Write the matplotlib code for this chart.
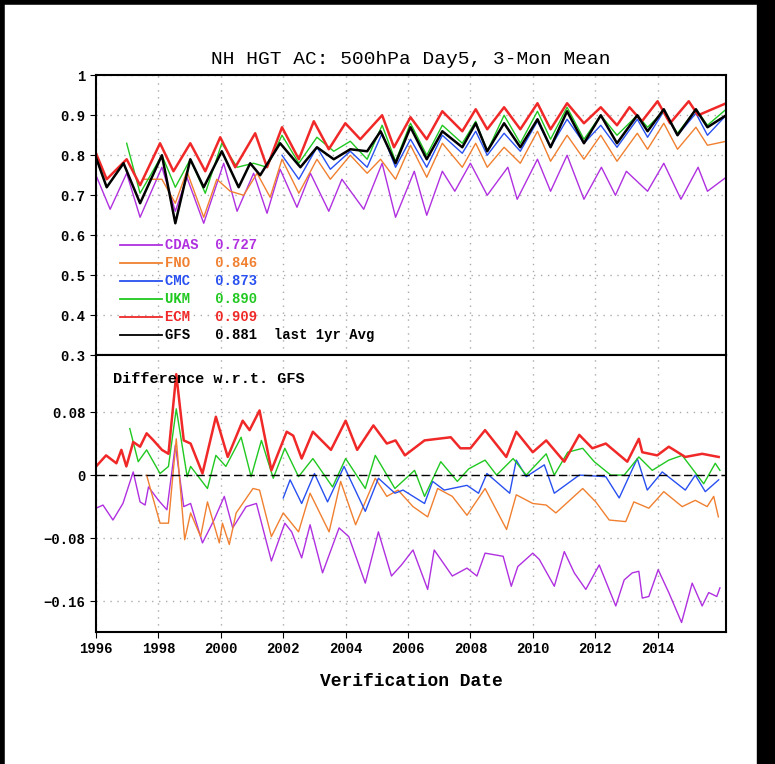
import matplotlib
matplotlib.use("Agg")
import matplotlib.pyplot as plt
from matplotlib.patches import Rectangle
from matplotlib.lines import Line2D

# ---- top panel: anomaly correlation (dates, values) ----
gfs_t = [1995.97, 1996.34, 1996.88, 1997.41, 1998.11, 1998.54, 1999.02, 1999.45, 2000.03, 2000.57,
         2000.94, 2001.26, 2001.9, 2002.55, 2003.08, 2003.62, 2004.15, 2004.69, 2005.12, 2005.6,
         2006.08, 2006.6, 2007.1, 2007.74, 2008.17, 2008.54, 2009.08, 2009.6, 2010.15, 2010.57,
         2011.1, 2011.64, 2012.18, 2012.7, 2013.35, 2013.68, 2014.2, 2014.64, 2015.23, 2015.6, 2016.2]
gfs_v = [0.80, 0.72, 0.78, 0.68, 0.80, 0.63, 0.79, 0.72, 0.81, 0.72,
         0.78, 0.75, 0.83, 0.77, 0.82, 0.79, 0.815, 0.81, 0.86, 0.78,
         0.87, 0.79, 0.86, 0.82, 0.88, 0.81, 0.88, 0.82, 0.89, 0.82,
         0.91, 0.83, 0.90, 0.83, 0.90, 0.86, 0.915, 0.85, 0.915, 0.87, 0.90]

ecm_t = [1995.97, 1996.34, 1996.98, 1997.41, 1998.05, 1998.48, 1999.02, 1999.5, 1999.98, 2000.46,
         2001.1, 2001.48, 2001.96, 2002.5, 2002.98, 2003.46, 2003.99, 2004.47, 2005.17, 2005.55,
         2006.08, 2006.6, 2007.1, 2007.74, 2008.17, 2008.54, 2009.08, 2009.6, 2010.15, 2010.57,
         2011.1, 2011.64, 2012.18, 2012.7, 2013.1, 2013.5, 2014.0, 2014.4, 2015.0, 2015.3, 2016.2]
ecm_v = [0.81, 0.74, 0.79, 0.725, 0.83, 0.76, 0.83, 0.76, 0.845, 0.77,
         0.855, 0.77, 0.87, 0.79, 0.885, 0.815, 0.88, 0.84, 0.90, 0.82,
         0.895, 0.84, 0.91, 0.86, 0.915, 0.865, 0.92, 0.865, 0.93, 0.865,
         0.93, 0.88, 0.92, 0.875, 0.92, 0.885, 0.935, 0.88, 0.935, 0.90, 0.93]

ukm_t = [1996.98, 1997.41, 1998.11, 1998.54, 1999.02, 1999.5, 2000.03, 2000.52, 2001.05, 2001.48,
         2001.96, 2002.5, 2003.08, 2003.62, 2004.15, 2004.69, 2005.17, 2005.6,
         2006.08, 2006.6, 2007.1, 2007.74, 2008.17, 2008.54, 2009.08, 2009.6, 2010.15, 2010.57,
         2011.1, 2011.64, 2012.18, 2012.7, 2013.35, 2013.68, 2014.2, 2014.64, 2015.23, 2015.6, 2016.2]
ukm_v = [0.83, 0.705, 0.80, 0.72, 0.79, 0.705, 0.83, 0.77, 0.78, 0.77,
         0.85, 0.78, 0.845, 0.81, 0.835, 0.79, 0.875, 0.785,
         0.88, 0.80, 0.875, 0.83, 0.885, 0.81, 0.90, 0.83, 0.91, 0.84,
         0.92, 0.84, 0.90, 0.85, 0.90, 0.87, 0.91, 0.855, 0.915, 0.875, 0.915]

cmc_t = [2001.96, 2002.5, 2003.08, 2003.51, 2004.15, 2004.69, 2005.17, 2005.6,
         2006.08, 2006.6, 2007.1, 2007.74, 2008.17, 2008.54, 2009.08, 2009.6, 2010.15, 2010.57,
         2011.1, 2011.64, 2012.18, 2012.7, 2013.35, 2013.68, 2014.2, 2014.64, 2015.23, 2015.6, 2016.2]
cmc_v = [0.80, 0.74, 0.82, 0.765, 0.81, 0.77, 0.855, 0.77,
         0.84, 0.77, 0.85, 0.805, 0.86, 0.80, 0.855, 0.81, 0.885, 0.82,
         0.89, 0.83, 0.875, 0.82, 0.89, 0.845, 0.91, 0.85, 0.905, 0.85, 0.90]

fno_t = [1997.52, 1998.11, 1998.54, 1998.91, 1999.45, 1999.87, 2000.3, 2000.73, 2001.16, 2001.58,
         2001.96, 2002.5, 2003.08, 2003.51, 2004.15, 2004.69, 2005.12, 2005.6,
         2006.08, 2006.6, 2007.1, 2007.74, 2008.17, 2008.54, 2009.08, 2009.6, 2010.15, 2010.57,
         2011.1, 2011.64, 2012.18, 2012.7, 2013.35, 2013.68, 2014.2, 2014.64, 2015.23, 2015.6, 2016.2]
fno_v = [0.74, 0.74, 0.68, 0.76, 0.645, 0.74, 0.71, 0.70, 0.755, 0.695,
         0.79, 0.705, 0.79, 0.74, 0.80, 0.755, 0.79, 0.74,
         0.825, 0.745, 0.83, 0.77, 0.83, 0.77, 0.82, 0.78, 0.86, 0.785,
         0.85, 0.79, 0.85, 0.785, 0.855, 0.815, 0.88, 0.815, 0.87, 0.825, 0.835]

cdas_t = [1995.97, 1996.45, 1996.98, 1997.41, 1998.11, 1998.54, 1998.91, 1999.45, 2000.09, 2000.52,
          2001.05, 2001.48, 2001.9, 2002.44, 2002.87, 2003.46, 2003.88, 2004.58, 2005.17, 2005.6,
          2006.2, 2006.6, 2007.1, 2007.5, 2008.0, 2008.54, 2009.2, 2009.5, 2010.15, 2010.57,
          2011.1, 2011.64, 2012.2, 2012.65, 2013.0, 2013.68, 2014.2, 2014.75, 2015.3, 2015.6, 2016.2]
cdas_v = [0.755, 0.665, 0.755, 0.645, 0.77, 0.66, 0.745, 0.63, 0.78, 0.66,
          0.755, 0.655, 0.765, 0.67, 0.755, 0.66, 0.74, 0.665, 0.78, 0.645,
          0.76, 0.65, 0.76, 0.71, 0.78, 0.70, 0.77, 0.69, 0.79, 0.71,
          0.80, 0.69, 0.77, 0.70, 0.76, 0.71, 0.78, 0.69, 0.77, 0.71, 0.745]

# ---- bottom panel: difference w.r.t. GFS ----
ecm_dt = [1996.0, 1996.32, 1996.65, 1996.81, 1996.97, 1997.19, 1997.41, 1997.62, 1997.84, 1998.11,
          1998.32, 1998.57, 1998.81, 1999.03, 1999.41, 1999.84, 2000.22, 2000.7, 2000.92, 2001.24,
          2001.62, 2002.11, 2002.32, 2002.59, 2002.95, 2003.53, 2004.0, 2004.37, 2004.89, 2005.32,
          2005.6, 2005.9, 2006.53, 2007.37, 2007.68, 2008.0, 2008.47, 2009.15, 2009.47, 2010.0,
          2010.43, 2011.01, 2011.49, 2011.91, 2012.34, 2013.03, 2013.4, 2013.51, 2013.99, 2014.36,
          2014.89, 2015.43, 2015.96]
ecm_dv = [0.011, 0.025, 0.015, 0.032, 0.011, 0.042, 0.036, 0.053, 0.044, 0.032,
          0.027, 0.128, 0.044, 0.040, 0.002, 0.074, 0.023, 0.069, 0.057, 0.082,
          0.006, 0.055, 0.050, 0.021, 0.055, 0.032, 0.069, 0.032, 0.063, 0.040,
          0.044, 0.025, 0.044, 0.048, 0.034, 0.034, 0.057, 0.023, 0.055, 0.029,
          0.044, 0.017, 0.051, 0.034, 0.040, 0.017, 0.046, 0.029, 0.025, 0.036,
          0.023, 0.027, 0.023]

ukm_dt = [1997.08, 1997.35, 1997.62, 1998.05, 1998.32, 1998.57, 1998.92, 1999.03, 1999.57, 1999.84,
          2000.16, 2000.65, 2000.97, 2001.3, 2001.68, 2002.05, 2002.49, 2002.95, 2003.58, 2004.0,
          2004.63, 2004.95, 2005.58, 2006.21, 2006.53, 2007.05, 2007.58, 2007.95, 2008.47, 2008.84,
          2009.37, 2009.79, 2010.43, 2010.69, 2011.12, 2011.6, 2011.97, 2012.5, 2012.93, 2013.4,
          2013.83, 2014.36, 2014.79, 2015.48, 2015.85, 2016.0]
ukm_dv = [0.059, 0.017, 0.032, 0.002, 0.011, 0.084, -0.002, 0.011, -0.017, 0.025,
          0.011, 0.048, -0.002, 0.044, -0.004, 0.034, -0.002, 0.021, -0.015, 0.021,
          -0.017, 0.025, -0.017, 0.006, -0.027, 0.017, -0.008, 0.008, 0.019, 0.0,
          0.021, 0.0, 0.027, 0.0, 0.029, 0.034, 0.017, 0.0, 0.0, 0.023,
          0.006, 0.019, 0.025, -0.011, 0.015, 0.006]

cmc_dt = [2002.0, 2002.22, 2002.59, 2003.0, 2003.42, 2003.95, 2004.63, 2005.05, 2005.58, 2005.84,
          2006.53, 2006.79, 2007.16, 2007.89, 2008.26, 2008.53, 2009.26, 2009.47, 2009.79, 2010.37,
          2010.69, 2011.49, 2012.34, 2012.77, 2013.35, 2013.67, 2014.15, 2014.89, 2015.21, 2015.53,
          2015.96]
cmc_dv = [-0.029, -0.006, -0.036, 0.002, -0.034, 0.011, -0.046, -0.004, -0.023, -0.019,
          -0.036, -0.008, -0.019, -0.013, -0.023, 0.002, -0.023, 0.019, -0.002, 0.013,
          -0.023, 0.0, -0.002, -0.029, 0.021, -0.019, 0.004, -0.019, 0.0, -0.021,
          -0.006]

fno_dt = [1997.62, 1997.78, 1998.05, 1998.32, 1998.57, 1998.84, 1999.03, 1999.35, 1999.57, 1999.95,
          2000.05, 2000.27, 2000.49, 2001.03, 2001.24, 2001.62, 2002.0, 2002.49, 2002.86, 2003.47,
          2003.84, 2004.32, 2004.95, 2005.32, 2005.68, 2006.16, 2006.63, 2006.95, 2007.42, 2007.89,
          2008.47, 2009.16, 2009.47, 2010.0, 2010.43, 2010.74, 2011.6, 2012.02, 2012.45, 2012.98,
          2013.24, 2013.72, 2014.2, 2014.79, 2015.21, 2015.59, 2015.8, 2015.95]
fno_dv = [0.0, -0.023, -0.061, -0.061, 0.046, -0.082, -0.048, -0.078, -0.034, -0.086,
          -0.061, -0.088, -0.048, -0.017, -0.019, -0.078, -0.048, -0.072, -0.023, -0.072,
          -0.008, -0.063, -0.004, -0.027, -0.019, -0.040, -0.053, -0.017, -0.027, -0.051,
          -0.017, -0.069, -0.025, -0.036, -0.038, -0.048, -0.017, -0.034, -0.057, -0.059,
          -0.034, -0.042, -0.021, -0.040, -0.032, -0.040, -0.027, -0.053]

cdas_dt = [1996.0, 1996.22, 1996.54, 1996.86, 1997.19, 1997.41, 1997.57, 1997.68, 1998.0, 1998.27,
           1998.54, 1998.81, 1999.03, 1999.41, 1999.78, 2000.11, 2000.38, 2000.81, 2001.14, 2001.62,
           2002.05, 2002.27, 2002.59, 2002.86, 2003.26, 2003.79, 2004.1, 2004.63, 2005.05, 2005.47,
           2005.79, 2006.16, 2006.63, 2006.84, 2007.42, 2007.89, 2008.21, 2008.47, 2009.05, 2009.31,
           2009.52, 2010.0, 2010.21, 2010.69, 2011.01, 2011.33, 2011.7, 2012.13, 2012.66, 2012.93,
           2013.19, 2013.4, 2013.51, 2013.72, 2014.02, 2014.36, 2014.77, 2015.11, 2015.43, 2015.64,
           2015.9, 2016.0]
cdas_dv = [-0.042, -0.038, -0.057, -0.036, 0.004, -0.034, -0.038, -0.015, -0.032, -0.044,
           0.038, -0.040, -0.036, -0.086, -0.057, -0.027, -0.067, -0.040, -0.036, -0.109,
           -0.061, -0.072, -0.105, -0.063, -0.124, -0.067, -0.078, -0.137, -0.072, -0.128,
           -0.114, -0.095, -0.145, -0.095, -0.128, -0.118, -0.128, -0.099, -0.103, -0.141,
           -0.116, -0.099, -0.107, -0.141, -0.097, -0.124, -0.145, -0.114, -0.166, -0.133,
           -0.124, -0.122, -0.156, -0.154, -0.120, -0.149, -0.187, -0.137, -0.166, -0.149,
           -0.154, -0.143]

NAMES = ["CDAS", "FNO", "CMC", "UKM", "ECM", "GFS"]
SCORES = ["0.727", "0.846", "0.873", "0.890", "0.909", "0.881"]
COLORS = {"CDAS": "#b030e0", "FNO": "#f08030", "CMC": "#2850f0",
          "UKM": "#20c820", "ECM": "#f02828", "GFS": "black"}

FONT = "Liberation Mono"

fig = plt.figure(figsize=(7.75, 7.64), dpi=100)
ax1 = fig.add_axes([0.124, 0.535, 0.813, 0.3665])
ax2 = fig.add_axes([0.124, 0.1728, 0.813, 0.3622])

top = {"CDAS": (cdas_t, cdas_v), "FNO": (fno_t, fno_v), "CMC": (cmc_t, cmc_v),
       "UKM": (ukm_t, ukm_v), "ECM": (ecm_t, ecm_v), "GFS": (gfs_t, gfs_v)}
for name in NAMES:
    t, v = top[name]
    ax1.plot(t, v, color=COLORS[name], lw=1.8 if name in ("GFS", "ECM") else 1.0,
             solid_joinstyle="round")

bot = {"CDAS": (cdas_dt, cdas_dv), "FNO": (fno_dt, fno_dv), "CMC": (cmc_dt, cmc_dv),
       "UKM": (ukm_dt, ukm_dv), "ECM": (ecm_dt, ecm_dv)}
for name in NAMES[:-1]:
    t, v = bot[name]
    ax2.plot(t, v, color=COLORS[name], lw=1.8 if name == "ECM" else 1.0,
             solid_joinstyle="round")
ax2.axhline(0, color="black", lw=1, ls=(0, (6, 3)))

years = list(range(1996, 2016, 2))
for ax in (ax1, ax2):
    ax.set_xlim(1996, 2016.2)
    ax.set_xticks(years)
    ax.grid(True, color="#aaaaaa", ls=(0, (1, 4)), lw=1)
    ax.tick_params(direction="out", length=4, labelsize=10)
    for s in ax.spines.values():
        s.set_linewidth(1.5)

ax1.set_ylim(0.3, 1.0)
ax1.set_yticks([0.3, 0.4, 0.5, 0.6, 0.7, 0.8, 0.9, 1.0])
ax1.set_yticklabels(["0.3", "0.4", "0.5", "0.6", "0.7", "0.8", "0.9", "1"],
                    fontfamily=FONT, fontweight="bold")
ax1.set_xticklabels([])
ax1.tick_params(axis="x", length=0)

ax2.set_ylim(-0.199, 0.152)
ax2.set_yticks([-0.16, -0.08, 0, 0.08])
ax2.set_yticklabels(["\u22120.16", "\u22120.08", "0", "0.08"], fontfamily=FONT, fontweight="bold")
ax2.set_xticklabels([str(y) for y in years], fontfamily=FONT, fontweight="bold")

ax1.set_title("NH HGT AC: 500hPa Day5, 3-Mon Mean", fontfamily=FONT, fontsize=14, pad=8)
ax2.set_xlabel("Verification Date", fontfamily=FONT, fontweight="bold", fontsize=13, labelpad=12)

ys = [0.393, 0.329, 0.264, 0.2, 0.136, 0.071]
for name, score, y in zip(NAMES, SCORES, ys):
    ax1.plot([0.038, 0.105], [y, y], transform=ax1.transAxes, color=COLORS[name], lw=1.3)
    label = f"{name:<5} {score}" + ("  last 1yr Avg" if name == "GFS" else "")
    ax1.text(0.11, y, label, transform=ax1.transAxes, color=COLORS[name], va="center",
             fontfamily=FONT, fontweight="bold", fontsize=10)

ax2.text(0.027, 0.913, "Difference w.r.t. GFS", transform=ax2.transAxes, va="center",
         fontfamily=FONT, fontweight="bold", fontsize=11)

# black frame on top and left, thick black strip on the right
fig.add_artist(Line2D([0, 1], [0.998, 0.998], transform=fig.transFigure, color="black", lw=4))
fig.add_artist(Line2D([0.002, 0.002], [0, 1], transform=fig.transFigure, color="black", lw=4))
fig.patches.append(Rectangle((0.977, 0), 0.023, 1, transform=fig.transFigure, color="black"))

fig.savefig("out.png", dpi=100)
